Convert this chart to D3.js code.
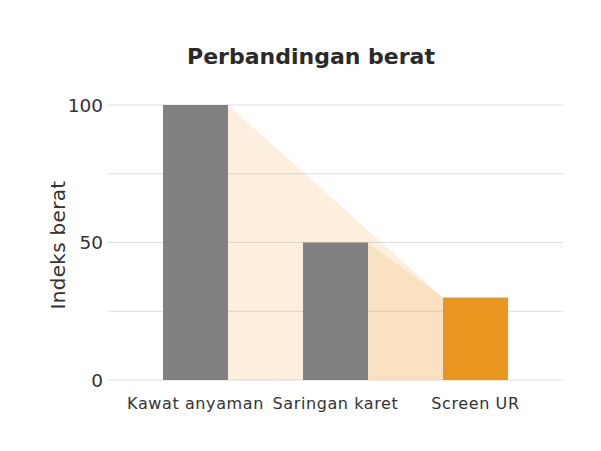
<!DOCTYPE html>
<html>
<head>
<meta charset="utf-8">
<script src="https://d3js.org/d3.v7.min.js"></script>
<style>
  body { margin: 0; background: #fff; }
  text { font-family: "DejaVu Sans", "Noto Sans", sans-serif; fill: #333; }
</style>
</head>
<body>
<div id="chart"></div>
<script>
// data
const categories = ["Kawat anyaman", "Saringan karet", "Screen UR"];
const values = [100, 50, 30];
const barColors = ["#808080", "#808080", "#e8961f"];
const yTicks = [0, 50, 100];
const gridTicks = [0, 25, 50, 75, 100];

const width = 601, height = 451;
const svg = d3.select("#chart").append("svg")
    .attr("width", width)
    .attr("height", height);

const x = d3.scaleBand()
    .domain(categories)
    .range([108, 563])
    .paddingInner(0.536)
    .paddingOuter(0.393);

const y = d3.scaleLinear()
    .domain([0, 100])
    .range([380, 105]);

// gridlines
svg.append("g")
  .selectAll("line")
  .data(gridTicks)
  .join("line")
    .attr("x1", 108).attr("x2", 563)
    .attr("y1", d => y(d)).attr("y2", d => y(d))
    .attr("stroke", "#dedede")
    .attr("stroke-width", 1);

// shaded drop areas: each earlier bar to the last bar
const last = categories.length - 1;
const xl = x(categories[last]);
for (let i = 0; i < last; i++) {
  const xr = x(categories[i]) + x.bandwidth();
  const pts = [[xr, y(values[i])], [xl, y(values[last])], [xl, y(0)], [xr, y(0)]];
  svg.append("path")
      .attr("d", d3.line()(pts) + "Z")
      .attr("fill", "#e8961f")
      .attr("fill-opacity", 0.15);
}

// bars
svg.append("g")
  .selectAll("rect")
  .data(values)
  .join("rect")
    .attr("x", (d, i) => x(categories[i]))
    .attr("y", d => y(d))
    .attr("width", x.bandwidth())
    .attr("height", d => y(0) - y(d))
    .attr("fill", (d, i) => barColors[i]);

// y tick labels
svg.append("g")
  .selectAll("text")
  .data(yTicks)
  .join("text")
    .attr("x", 103)
    .attr("y", d => y(d))
    .attr("dy", "0.36em")
    .attr("text-anchor", "end")
    .style("font-size", "18.5px")
    .text(d => d);

// x labels
svg.append("g")
  .selectAll("text")
  .data(categories)
  .join("text")
    .attr("x", d => x(d) + x.bandwidth() / 2)
    .attr("y", 409)
    .attr("text-anchor", "middle")
    .style("font-size", "16px")
    .style("letter-spacing", "0.6px")
    .text(d => d);

// axis title
svg.append("text")
    .attr("transform", "translate(65,245) rotate(-90)")
    .attr("text-anchor", "middle")
    .style("font-size", "20px")
    .style("letter-spacing", "0.3px")
    .text("Indeks berat");

// title
svg.append("text")
    .attr("x", 311)
    .attr("y", 64)
    .attr("text-anchor", "middle")
    .style("font-size", "22px")
    .style("font-weight", "bold")
    .style("fill", "#2a2a2a")
    .text("Perbandingan berat");
</script>
</body>
</html>
